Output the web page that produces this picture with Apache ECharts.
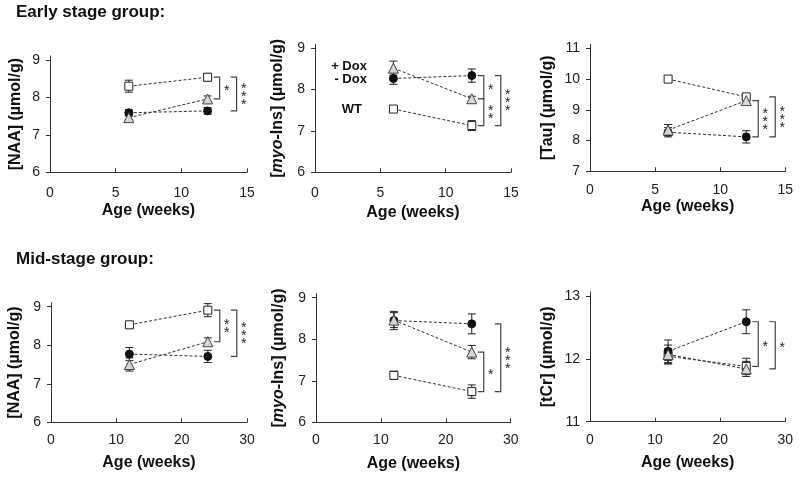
<!DOCTYPE html>
<html><head><meta charset="utf-8">
<script src="https://cdn.jsdelivr.net/npm/echarts@6/dist/echarts.min.js"></script>
<style>html,body{margin:0;padding:0;background:#fff}#c{width:800px;height:480px}</style>
</head><body><div id="c"></div>
<script>
// ---- data ----
const weeksEarly = [6, 12];
const weeksMid = [12, 24];
const xTicksEarly = [0, 5, 10, 15];
const xTicksMid = [0, 10, 20, 30];
const seriesNames = ['WT', '- Dox', '+ Dox'];

// Early stage: NAA
const naaEarlyWT = [8.30, 8.54],  naaEarlyWTErr = [0.16, 0.10];
const naaEarlyMinus = [7.59, 7.64], naaEarlyMinusErr = [0.08, 0.09];
const naaEarlyPlus = [7.46, 7.96],  naaEarlyPlusErr = [0.05, 0.08];
// Early stage: myo-Ins
const myoEarlyWT = [7.53, 7.13],  myoEarlyWTErr = [0.05, 0.12];
const myoEarlyMinus = [8.27, 8.34], myoEarlyMinusErr = [0.14, 0.16];
const myoEarlyPlus = [8.52, 7.78],  myoEarlyPlusErr = [0.17, 0.06];
// Early stage: Tau
const tauEarlyWT = [10.00, 9.42], tauEarlyWTErr = [0.07, 0.06];
const tauEarlyMinus = [8.27, 8.12], tauEarlyMinusErr = [0.15, 0.20];
const tauEarlyPlus = [8.34, 9.30],  tauEarlyPlusErr = [0.18, 0.10];
// Mid stage: NAA
const naaMidWT = [8.53, 8.91],  naaMidWTErr = [0.08, 0.17];
const naaMidMinus = [7.77, 7.71], naaMidMinusErr = [0.17, 0.16];
const naaMidPlus = [7.50, 8.09],  naaMidPlusErr = [0.17, 0.10];
// Mid stage: myo-Ins
const myoMidWT = [7.13, 6.74],  myoMidWTErr = [0.10, 0.16];
const myoMidMinus = [8.45, 8.37], myoMidMinusErr = [0.22, 0.24];
const myoMidPlus = [8.46, 7.69],  myoMidPlusErr = [0.18, 0.16];
// Mid stage: tCr
const tcrMidWT = [12.04, 11.88], tcrMidWTErr = [0.12, 0.13];
const tcrMidMinus = [12.12, 12.59], tcrMidMinusErr = [0.18, 0.19];
const tcrMidPlus = [12.07, 11.84],  tcrMidPlusErr = [0.15, 0.12];

// y tick labels
const yTicksNAA = [6, 7, 8, 9];
const yTicksMyo = [6, 7, 8, 9];
const yTicksTau = [7, 8, 9, 10, 11];
const yTicksTcr = [11, 12, 13];

// significance brackets: [level (0 inner, 1 outer), top group, bottom group, stars]
const sigNaaEarly = [[0, 0, 2, '*'], [1, 0, 1, '***']];
const sigMyoEarly = [[0, 1, 2, '*'], [0, 2, 0, '**'], [1, 1, 0, '***']];
const sigTauEarly = [[0, 2, 1, '***'], [1, 0, 1, '***']];
const sigNaaMid = [[0, 0, 2, '**'], [1, 0, 1, '***']];
const sigMyoMid = [[0, 2, 0, '*'], [1, 1, 0, '***']];
const sigTcrMid = [[0, 1, 0, '*'], [1, 1, 2, '*']];

// ---- layout (pixels): left, top tick, right, bottom ----
const FONT = "'Liberation Sans', Arial, sans-serif";
const panels = [
  {box: [50, 60, 247, 172.3], weeks: weeksEarly, xTicks: xTicksEarly, yTicks: yTicksNAA,
   yName: '[NAA] (µmol/g)', nameGap: 26, lblM: 14, xNameGap: 30,
   vals: [naaEarlyWT, naaEarlyMinus, naaEarlyPlus], errs: [naaEarlyWTErr, naaEarlyMinusErr, naaEarlyPlusErr], sig: sigNaaEarly},
  {box: [315, 48.3, 511, 172.3], weeks: weeksEarly, xTicks: xTicksEarly, yTicks: yTicksMyo,
   yName: '[{i|myo}-Ins] (µmol/g)', nameGap: 29, lblM: 14, xNameGap: 32, legend: true,
   vals: [myoEarlyWT, myoEarlyMinus, myoEarlyPlus], errs: [myoEarlyWTErr, myoEarlyMinusErr, myoEarlyPlusErr], sig: sigMyoEarly},
  {box: [590, 48.3, 785.3, 171.3], weeks: weeksEarly, xTicks: xTicksEarly, yTicks: yTicksTau,
   yName: '[Tau] (µmol/g)', nameGap: 34, lblM: 12, xNameGap: 26,
   vals: [tauEarlyWT, tauEarlyMinus, tauEarlyPlus], errs: [tauEarlyWTErr, tauEarlyMinusErr, tauEarlyPlusErr], sig: sigTauEarly},
  {box: [51, 306.7, 247, 422.3], weeks: weeksMid, xTicks: xTicksMid, yTicks: yTicksNAA,
   yName: '[NAA] (µmol/g)', nameGap: 28, lblM: 11, xNameGap: 32,
   vals: [naaMidWT, naaMidMinus, naaMidPlus], errs: [naaMidWTErr, naaMidMinusErr, naaMidPlusErr], sig: sigNaaMid},
  {box: [316, 297.7, 510.7, 422.3], weeks: weeksMid, xTicks: xTicksMid, yTicks: yTicksMyo,
   yName: '[{i|myo}-Ins] (µmol/g)', nameGap: 29, lblM: 11, xNameGap: 33,
   vals: [myoMidWT, myoMidMinus, myoMidPlus], errs: [myoMidWTErr, myoMidMinusErr, myoMidPlusErr], sig: sigMyoMid},
  {box: [590, 296, 785.3, 421.7], weeks: weeksMid, xTicks: xTicksMid, yTicks: yTicksTcr,
   yName: '[tCr] (µmol/g)', nameGap: 34, lblM: 11, xNameGap: 33,
   vals: [tcrMidWT, tcrMidMinus, tcrMidPlus], errs: [tcrMidWTErr, tcrMidMinusErr, tcrMidPlusErr], sig: sigTcrMid}
];

const symbolStyles = [
  {symbol: 'rect', symbolSize: 8, itemStyle: {color: '#fff', borderColor: '#222', borderWidth: 1}},
  {symbol: 'circle', symbolSize: 8, itemStyle: {color: '#111', borderColor: '#111', borderWidth: 1}},
  {symbol: 'triangle', symbolSize: 10, itemStyle: {color: '#d6d6d6', borderColor: '#444', borderWidth: 1}}
];
const legendDist = [27, 22, 21];
const legendOffset = [[0, 0], [0, 1], [0, -2]];

function errRender(params, api) {
  const x = api.value(0), lo = api.value(1), hi = api.value(2);
  const a = api.coord([x, hi]), b = api.coord([x, lo]);
  const w = 4;
  const st = {stroke: '#222', lineWidth: 1};
  return {type: 'group', children: [
    {type: 'line', shape: {x1: a[0], y1: a[1], x2: b[0], y2: b[1]}, style: st},
    {type: 'line', shape: {x1: a[0] - w, y1: a[1], x2: a[0] + w, y2: a[1]}, style: st},
    {type: 'line', shape: {x1: b[0] - w, y1: b[1], x2: b[0] + w, y2: b[1]}, style: st}
  ]};
}

function makeBracketRender(labels) {
  return function (params, api) {
    const x = api.value(0), yt = api.value(1), yb = api.value(2), lvl = api.value(3);
    const pt = api.coord([x, yt]), pb = api.coord([x, yb]);
    const vx = pt[0] + (lvl ? 29 : 12);
    const t = 6;
    const label = labels[params.dataIndex];
    return {type: 'group', children: [
      {type: 'polyline', shape: {points: [[vx - t, pt[1]], [vx, pt[1]], [vx, pb[1]], [vx - t, pb[1]]]},
       style: {stroke: '#444', fill: null, lineWidth: 1.2}},
      {type: 'text', x: vx + 7, y: (pt[1] + pb[1]) / 2 + 3,
       style: {text: label.split('').join('\n'), font: '14px ' + FONT, lineHeight: 8,
               align: 'center', verticalAlign: 'middle', fill: '#222'}}
    ]};
  };
}

const grid = [], xAxis = [], yAxis = [], series = [];
panels.forEach((p, i) => {
  const [left, topTick, right, bottom] = p.box;
  const yMin = p.yTicks[0], yTop = p.yTicks[p.yTicks.length - 1];
  const ext = 4 * (yTop - yMin) / (bottom - topTick);
  grid.push({left: left, top: topTick - 4, width: right - left, height: bottom - topTick + 4});
  xAxis.push({
    type: 'value', gridIndex: i, min: p.xTicks[0], max: p.xTicks[p.xTicks.length - 1],
    interval: p.xTicks[1] - p.xTicks[0],
    name: 'Age (weeks)', nameLocation: 'middle', nameGap: p.xNameGap,
    nameTextStyle: {fontFamily: FONT, fontWeight: 'bold', fontSize: 16, color: '#111'},
    axisLine: {lineStyle: {color: '#333', width: 1}},
    axisTick: {inside: true, length: 4, lineStyle: {color: '#333'}},
    axisLabel: {fontFamily: FONT, fontSize: 14, color: '#222', margin: p.lblM},
    splitLine: {show: false}
  });
  yAxis.push({
    type: 'value', gridIndex: i, min: yMin, max: yTop + ext,
    name: p.yName, nameLocation: 'middle', nameGap: p.nameGap,
    nameTextStyle: {fontFamily: FONT, fontWeight: 'bold', fontSize: 16, color: '#111',
      rich: {i: {fontFamily: FONT, fontWeight: 'bold', fontStyle: 'italic', fontSize: 16, color: '#111'}}},
    axisLine: {show: true, lineStyle: {color: '#333', width: 1}},
    axisTick: {show: true, inside: false, length: 4, lineStyle: {color: '#333'}, customValues: p.yTicks},
    axisLabel: {fontFamily: FONT, fontSize: 14, color: '#222', margin: 10, customValues: p.yTicks},
    splitLine: {show: false}
  });
  // error bars
  const errData = [];
  p.vals.forEach((v, s) => v.forEach((val, k) => {
    errData.push([p.weeks[k], val - p.errs[s][k], val + p.errs[s][k]]);
  }));
  series.push({type: 'custom', xAxisIndex: i, yAxisIndex: i, renderItem: errRender,
    encode: {x: 0, y: [1, 2]}, data: errData, z: 3, clip: false, silent: true});
  // lines with markers
  p.vals.forEach((v, s) => {
    const data = v.map((val, k) => {
      const item = {value: [p.weeks[k], val]};
      if (p.legend && k === 0) {
        item.label = {show: true, position: 'left', distance: legendDist[s], offset: legendOffset[s],
          formatter: seriesNames[s], fontFamily: FONT, fontWeight: 'bold', fontSize: 13, color: '#111'};
      }
      return item;
    });
    series.push(Object.assign({
      type: 'line', name: seriesNames[s], xAxisIndex: i, yAxisIndex: i, data: data,
      lineStyle: {type: [3, 2], width: 1, color: '#333'}, z: 4 + s, animation: false
    }, symbolStyles[s]));
  });
  // significance brackets
  const last = p.weeks.length - 1;
  const bData = p.sig.map(b => [p.weeks[last], p.vals[b[1]][last], p.vals[b[2]][last], b[0]]);
  series.push({type: 'custom', xAxisIndex: i, yAxisIndex: i, renderItem: makeBracketRender(p.sig.map(b => b[3])),
    encode: {x: 0, y: [1, 2]}, data: bData, z: 8, clip: false, silent: true});
});

const chart = echarts.init(document.getElementById('c'), null, {renderer: 'canvas'});
chart.setOption({
  animation: false,
  backgroundColor: '#fff',
  grid: grid, xAxis: xAxis, yAxis: yAxis, series: series,
  graphic: [
    {type: 'text', left: 16, top: 4, style: {text: 'Early stage group:', font: 'bold 17px ' + FONT, fill: '#111'}},
    {type: 'text', left: 16, top: 251, style: {text: 'Mid-stage group:', font: 'bold 17px ' + FONT, fill: '#111'}}
  ]
});
</script></body></html>
